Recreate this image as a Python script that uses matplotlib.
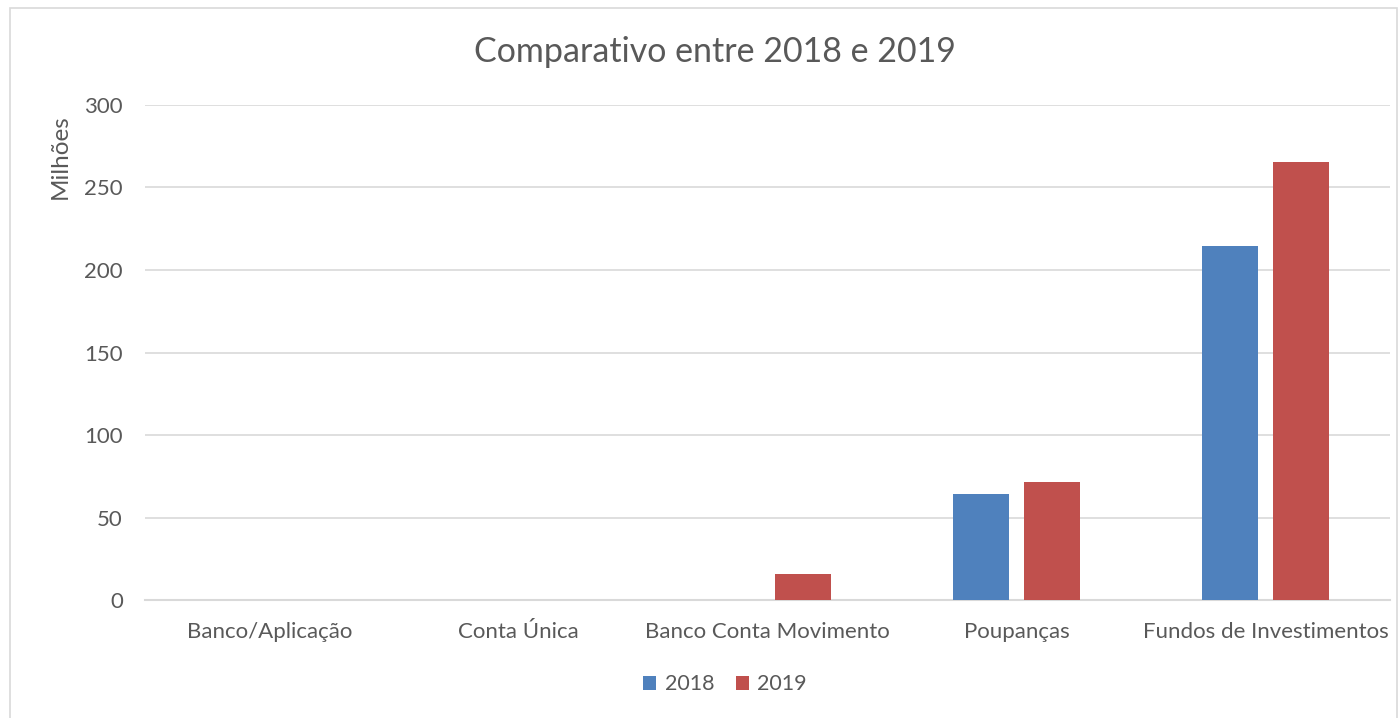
import numpy as np
import matplotlib.pyplot as plt
from matplotlib.patches import Rectangle

categories = ['Banco/Aplicação', 'Conta Única', 'Banco Conta Movimento', 'Poupanças', 'Fundos de Investimentos']
values_2018 = [0, 0, 0, 64.2, 214.5]
values_2019 = [0, 0, 15.8, 71.5, 265.5]
yticks = [0, 50, 100, 150, 200, 250, 300]

plt.rcParams['font.family'] = ['Lato', 'DejaVu Sans']
text_color = '#595959'
grid_color = '#D9D9D9'

fig = plt.figure(figsize=(14, 7.18), dpi=100)
fig.patches.append(Rectangle((0.007, -0.01), 0.991, 0.999, transform=fig.transFigure,
                             fill=False, edgecolor='#D9D9D9', linewidth=1.2))

ax = fig.add_axes([0.1036, 0.1643, 0.8893, 0.6895])
x = np.arange(len(categories))
width = 0.225
offset = 0.1426
ax.bar(x - offset, values_2018, width, color='#4F81BD', label='2018', zorder=3)
ax.bar(x + offset, values_2019, width, color='#C0504D', label='2019', zorder=3)

ax.set_xlim(-0.5, len(categories) - 0.5)
ax.set_ylim(0, 300)
ax.set_yticks(yticks)
ax.yaxis.grid(True, color=grid_color, linewidth=1.2, zorder=0)
for side in ['top', 'right', 'left']:
    ax.spines[side].set_visible(False)
ax.spines['bottom'].set_color(grid_color)
ax.spines['bottom'].set_linewidth(1.5)
ax.tick_params(axis='both', length=0, colors=text_color, labelsize=16)
ax.tick_params(axis='y', pad=16)
ax.tick_params(axis='x', pad=16)
ax.set_xticks(x)
ax.set_xticklabels(categories)

ax.set_ylabel('Milhões', color=text_color, fontsize=17.5)
ax.yaxis.set_label_coords(-0.06, 0.895)

fig.text(0.511, 0.927, 'Comparativo entre 2018 e 2019', ha='center', va='center',
         color=text_color, fontsize=24.5)

fig.legend(loc='center', bbox_to_anchor=(0.518, 0.047), ncol=2, frameon=False,
           fontsize=15.5, labelcolor=text_color, handlelength=0.6, handleheight=0.6,
           columnspacing=1.0, handletextpad=0.4)

fig.savefig('out.png', dpi=100)
